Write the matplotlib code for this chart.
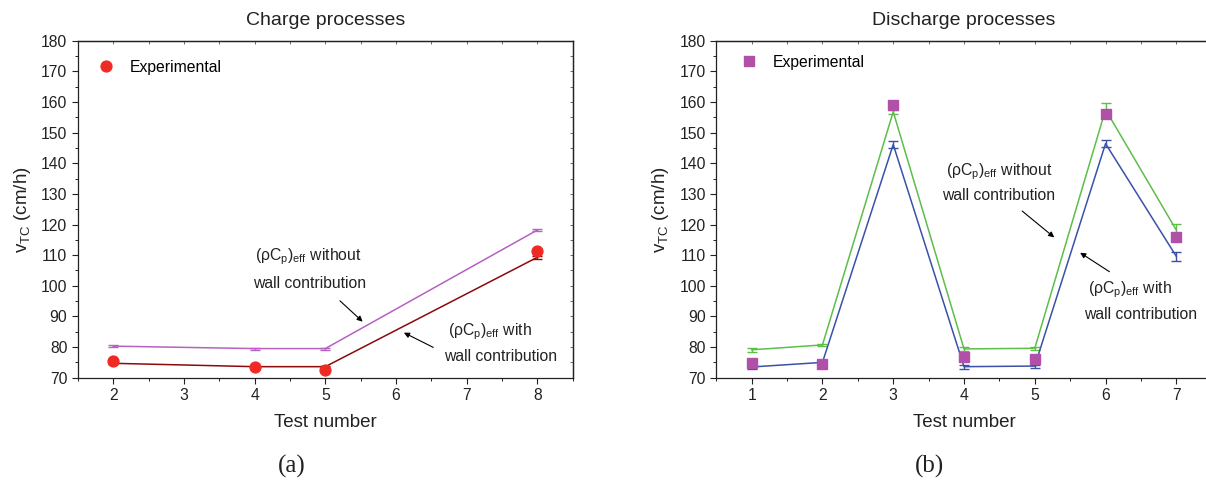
import matplotlib
matplotlib.use("Agg")
import matplotlib.pyplot as plt
from matplotlib.ticker import MultipleLocator
from matplotlib.lines import Line2D

plt.rcParams['font.family'] = ['Liberation Sans', 'DejaVu Sans']
plt.rcParams['mathtext.fontset'] = 'custom'
plt.rcParams['mathtext.rm'] = 'Liberation Sans'
plt.rcParams['mathtext.it'] = 'Liberation Sans:italic'
plt.rcParams['mathtext.bf'] = 'Liberation Sans:bold'

# ---- Charge processes (a) ----
charge_tests = [2, 4, 5, 8]
charge_exp = [75.3, 73.4, 72.6, 111.5]
charge_without = [80.3, 79.5, 79.5, 118.2]
charge_without_err = [0.3, 0.3, 0.3, 0.4]
charge_with = [74.7, 73.6, 73.6, 109.3]
charge_with_err = [0.3, 0.3, 0.3, 0.4]

# ---- Discharge processes (b) ----
dis_tests = [1, 2, 3, 4, 5, 6, 7]
dis_exp = [74.7, 74.6, 159.0, 76.8, 76.2, 156.0, 116.0]
dis_without = [79.1, 80.7, 156.8, 79.4, 79.6, 157.5, 118.2]
dis_without_err = [0.7, 0.4, 0.6, 0.6, 0.5, 2.1, 1.9]
dis_with = [73.5, 75.0, 146.1, 73.6, 73.8, 146.4, 109.6]
dis_with_err = [0.6, 0.4, 1.2, 0.6, 0.5, 1.2, 1.4]

xticks_a = [2, 3, 4, 5, 6, 7, 8]
xticks_b = [1, 2, 3, 4, 5, 6, 7]
yticks = list(range(70, 181, 10))

W, H = 1206, 480
fig = plt.figure(figsize=(W / 100, H / 100), dpi=100)

def px_axes(x0, x1, ytop, ybot):
    return [x0 / W, (H - ybot) / H, (x1 - x0) / W, (ybot - ytop) / H]

axa = fig.add_axes(px_axes(77.9, 572.7, 40.7, 377.7))
axb = fig.add_axes(px_axes(716.3, 1211.7, 40.7, 377.7))

FS_TICK = 11.3
FS_LAB = 13.5
FS_TITLE = 14

def style_axis(ax, xlim, xticks, right_visible=True):
    ax.set_xlim(*xlim)
    ax.set_ylim(70, 180)
    ax.set_xticks(xticks)
    ax.set_yticks(yticks)
    ax.xaxis.set_minor_locator(MultipleLocator(0.5))
    ax.yaxis.set_minor_locator(MultipleLocator(5))
    for s in ax.spines.values():
        s.set_linewidth(0.9)
        s.set_color('#222222')
    ax.tick_params(which='major', direction='out', length=4.5, width=0.8,
                   labelsize=FS_TICK, colors='#222222', pad=3)
    ax.tick_params(which='minor', direction='out', length=2.5, width=0.7,
                   colors='#222222')
    # mirrored inward ticks on top/right
    sx = ax.secondary_xaxis('top')
    sx.set_xticks(xticks)
    sx.xaxis.set_minor_locator(MultipleLocator(0.5))
    sx.tick_params(which='both', direction='in', length=2.5, width=0.6,
                   labeltop=False, colors='#555555')
    sx.spines['top'].set_linewidth(0.9)
    sx.spines['top'].set_color('#222222')
    if right_visible:
        sy = ax.secondary_yaxis('right')
        sy.set_yticks(yticks)
        sy.yaxis.set_minor_locator(MultipleLocator(5))
        sy.tick_params(which='both', direction='in', length=2.5, width=0.6,
                       labelright=False, colors='#555555')
        sy.spines['right'].set_linewidth(0.9)
        sy.spines['right'].set_color('#222222')
    else:
        ax.spines['right'].set_visible(False)
    ax.set_xlabel('Test number', fontsize=FS_LAB, color='#222222', labelpad=8)
    ax.set_ylabel(r'v$_\mathregular{TC}$ (cm/h)', fontsize=FS_LAB, color='#222222', labelpad=6)

style_axis(axa, (1.5, 8.5), xticks_a)
style_axis(axb, (0.5, 7.5), xticks_b, right_visible=False)

# --- panel a ---
c_without = '#B562C0'
c_with = '#8B0A0A'
c_exp_a = '#EE2A24'
axa.errorbar(charge_tests, charge_without, yerr=charge_without_err, color=c_without,
             lw=1.1, capsize=3.5, capthick=1.0, elinewidth=1.0, zorder=3)
axa.errorbar(charge_tests, charge_with, yerr=charge_with_err, color=c_with,
             lw=1.1, capsize=3.5, capthick=1.0, elinewidth=1.0, zorder=3)
axa.plot(charge_tests, charge_exp, 'o', color=c_exp_a, ms=7.8, mec=c_exp_a, zorder=5,
         clip_on=False)
axa.set_title('Charge processes', fontsize=FS_TITLE, color='#222222', pad=11)

# --- panel b ---
c_green = '#5DBE4A'
c_blue = '#3A51A8'
c_exp_b = '#B050A8'
axb.errorbar(dis_tests, dis_without, yerr=dis_without_err, color=c_green,
             lw=1.1, capsize=3.5, capthick=1.0, elinewidth=1.0, zorder=3)
axb.errorbar(dis_tests, dis_with, yerr=dis_with_err, color=c_blue,
             lw=1.1, capsize=3.5, capthick=1.0, elinewidth=1.0, zorder=3)
axb.plot(dis_tests, dis_exp, 's', color=c_exp_b, ms=7, mec=c_exp_b, zorder=5)
axb.set_title('Discharge processes', fontsize=FS_TITLE, color='#222222', pad=11)

# legends
ha = Line2D([], [], ls='none', marker='o', color=c_exp_a, ms=7.8)
axa.legend([ha], ['Experimental'], loc='center left', bbox_to_anchor=(0.041, 0.921),
           frameon=False, fontsize=FS_TICK, handlelength=1.0, handletextpad=1.0,
           borderpad=0, borderaxespad=0)
hb = Line2D([], [], ls='none', marker='s', color=c_exp_b, ms=7)
axb.legend([hb], ['Experimental'], loc='center left', bbox_to_anchor=(0.0496, 0.936),
           frameon=False, fontsize=FS_TICK, handlelength=1.0, handletextpad=1.0,
           borderpad=0, borderaxespad=0)

lab1 = r'$\mathregular{(\rho C_p)_{eff}}$ without'
lab2 = r'$\mathregular{(\rho C_p)_{eff}}$ with'
lab3 = 'wall contribution'
tkw = dict(fontsize=FS_TICK, color='#222222', ha='left', va='center')
arw = dict(arrowstyle='-|>', color='black', lw=0.8, mutation_scale=8,
           shrinkA=0, shrinkB=0)

# panel a annotations
axa.text(4.005, 109.5, lab1, **tkw)
axa.text(3.972, 100.8, lab3, **tkw)
axa.annotate('', xy=(5.528, 88.3), xytext=(5.207, 95.1), arrowprops=arw)
axa.text(6.735, 85.0, lab2, **tkw)
axa.text(6.678, 76.9, lab3, **tkw)
axa.annotate('', xy=(6.112, 84.7), xytext=(6.527, 79.9), arrowprops=arw)

# panel b annotations
axb.text(3.75, 137.2, lab1, **tkw)
axb.text(3.692, 129.4, lab3, **tkw)
axb.annotate('', xy=(5.275, 115.8), xytext=(4.822, 124.4), arrowprops=arw)
axb.text(5.749, 98.6, lab2, **tkw)
axb.text(5.689, 90.7, lab3, **tkw)
axb.annotate('', xy=(5.641, 110.8), xytext=(6.055, 104.6), arrowprops=arw)

# panel letters
fig.text(292 / W, 1 - 466 / H, '(a)', family=['Liberation Serif', 'DejaVu Serif'],
         fontsize=18, ha='center', va='center', color='#222222')
fig.text(929 / W, 1 - 466 / H, '(b)', family=['Liberation Serif', 'DejaVu Serif'],
         fontsize=18, ha='center', va='center', color='#222222')

fig.savefig('out.png', dpi=100)
